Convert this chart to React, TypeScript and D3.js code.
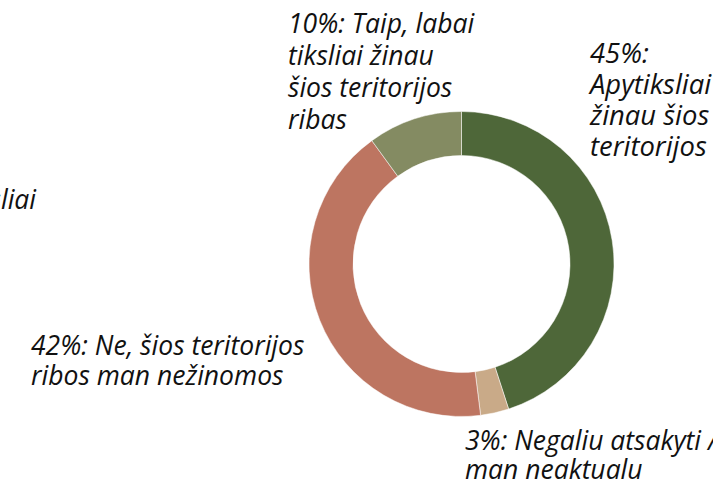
import React from "react";
import * as d3 from "d3";

const categories = [
  "Apytiksliai žinau šios teritorijos ribas",
  "Negaliu atsakyti / man neaktualu",
  "Ne, šios teritorijos ribos man nežinomos",
  "Taip, labai tiksliai žinau šios teritorijos ribas",
];
const values = [45, 3, 42, 10];
const colors = ["#4e6739", "#c9aa88", "#bd7561", "#848b62"];
const labelLines = [
  ["45%:", "Apytiksliai", "žinau šios", "teritorijos"],
  ["3%: Negaliu atsakyti /", "man neaktualu"],
  ["42%: Ne, šios teritorijos", "ribos man nežinomos"],
  ["10%: Taip, labai", "tiksliai žinau", "šios teritorijos", "ribas"],
];
const labelPos = [
  { x: 590, y: 63, lh: 31, fs: 27.4 },
  { x: 465, y: 450, lh: 29, fs: 26.5 },
  { x: 31, y: 355, lh: 30, fs: 26.5 },
  { x: 288, y: 33, lh: 32, fs: 26.5 },
];

const W = 713;
const H = 483;
const cx = 461.5;
const cy = 264;
const rOuter = 152.5;
const rInner = 108.5;
const FONT = "'Open Sans', sans-serif";

export default function App() {
  const pie = d3
    .pie<number>()
    .sort(null)
    .value((d) => d)
    .startAngle(0)
    .endAngle(2 * Math.PI);
  const arcs = pie(values);
  const arc = d3.arc<d3.PieArcDatum<number>>().innerRadius(rInner).outerRadius(rOuter);

  return (
    <svg
      width={W}
      height={H}
      style={{ position: "absolute", left: 0, top: 0, background: "#fff" }}
      fontFamily={FONT}
    >
      <g transform={`translate(${cx},${cy})`}>
        {arcs.map((a, i) => (
          <path key={categories[i]} d={arc(a) || ""} fill={colors[i]} stroke="#fff" strokeWidth={0.5} />
        ))}
      </g>
      {labelLines.map((lines, i) => (
        <text key={i} fontSize={labelPos[i].fs} fontStyle="italic" fill="#111">
          {lines.map((t, j) => (
            <tspan key={j} x={labelPos[i].x} y={labelPos[i].y + j * labelPos[i].lh}>
              {t}
            </tspan>
          ))}
        </text>
      ))}
      <text x={36} y={209} textAnchor="end" fontSize={26.5} fontStyle="italic" fill="#111">
        Apytiksliai
      </text>
    </svg>
  );
}
